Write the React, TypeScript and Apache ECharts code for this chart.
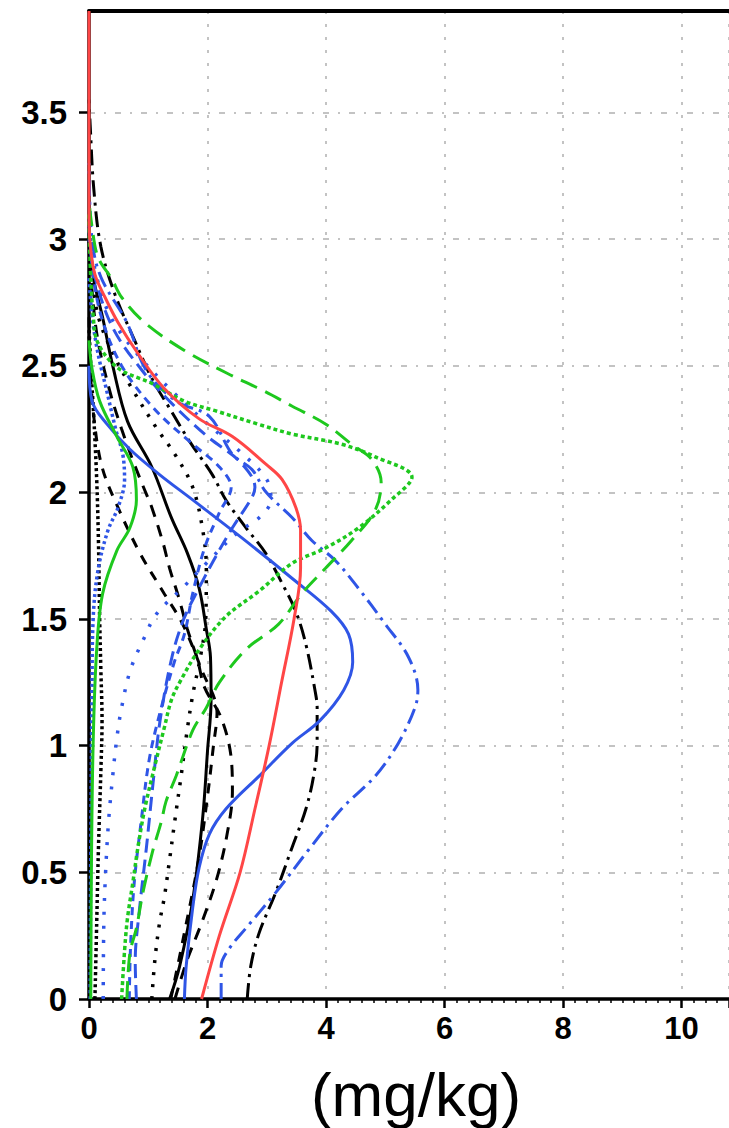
import React, { useEffect, useRef } from "react";
import * as echarts from "echarts";

// ---- data: [concentration (mg/kg), height] ----
const yTicks = [0, 0.5, 1, 1.5, 2, 2.5, 3, 3.5];
const xTicks = [0, 2, 4, 6, 8, 10];

const blackSquares = [[0.1,0],[0.13,0.3],[0.16,0.6],[0.2,0.9],[0.22,1.1],[0.2,1.3],[0.18,1.5],[0.16,1.8],[0.13,2.05],[0.08,2.3],[0.03,2.5],[0,2.65]];
const blackDotted = [[1.06,0],[1.11,0.15],[1.19,0.3],[1.27,0.4],[1.36,0.55],[1.44,0.69],[1.56,0.89],[1.65,1.05],[1.75,1.2],[1.88,1.35],[1.97,1.5],[1.98,1.7],[1.92,1.85],[1.75,2.02],[1.45,2.15],[1.15,2.25],[0.75,2.4],[0.4,2.55],[0.15,2.7],[0.02,2.9]];
const blackDash1 = [[1.38,0],[1.6,0.25],[1.85,0.55],[2.0,0.8],[2.1,1.0],[2.16,1.13],[1.9,1.3],[1.58,1.48],[1.27,1.6],[0.86,1.76],[0.49,1.94],[0.22,2.1],[0.08,2.3],[0.02,2.5],[0,2.7]];
const blackDash2 = [[1.45,0],[1.65,0.15],[1.9,0.3],[2.15,0.47],[2.33,0.65],[2.42,0.82],[2.4,0.95],[2.23,1.11],[1.95,1.23],[1.83,1.34],[1.66,1.46],[1.52,1.58],[1.36,1.7],[1.25,1.8],[1.06,1.94],[0.92,2.02],[0.75,2.12],[0.55,2.25],[0.35,2.4],[0.15,2.6],[0.05,2.8],[0,3.0]];
const blackSolid = [[1.36,0],[1.53,0.13],[1.75,0.39],[1.92,0.72],[2.0,0.98],[2.06,1.18],[2.05,1.35],[1.98,1.46],[1.86,1.62],[1.66,1.76],[1.39,1.9],[1.06,2.1],[0.65,2.28],[0.4,2.5],[0.23,2.69],[0.07,2.85],[0,3.0]];
const blackDashDot = [[2.67,0],[2.73,0.13],[2.87,0.26],[3.15,0.42],[3.43,0.6],[3.66,0.75],[3.79,0.88],[3.85,1.01],[3.85,1.15],[3.82,1.21],[3.66,1.4],[3.49,1.53],[3.26,1.64],[2.98,1.76],[2.65,1.86],[2.31,1.97],[2.08,2.07],[1.7,2.2],[1.39,2.32],[1.06,2.45],[0.77,2.6],[0.44,2.78],[0.2,2.97],[0.08,3.2],[0.02,3.45],[0,3.55]];

const blueSquares = [[0.02,0],[0.03,0.6],[0.05,1.2],[0.07,1.5],[0.15,1.69],[0.32,1.85],[0.49,1.94],[0.6,2.05],[0.57,2.15],[0.45,2.25],[0.3,2.4],[0.15,2.55],[0.05,2.7],[0,2.85]];
const blueDots = [[0.24,0],[0.25,0.3],[0.28,0.5],[0.33,0.7],[0.4,0.88],[0.47,1.03],[0.55,1.15],[0.7,1.3],[0.94,1.43],[1.14,1.52],[1.61,1.63],[1.98,1.72],[2.5,1.84],[2.87,1.9],[3.07,1.97],[3.0,2.05],[2.6,2.15],[2.0,2.27],[1.4,2.4],[0.8,2.55],[0.35,2.7],[0.1,2.88],[0,3.05]];
const blueDash1 = [[0.8,0],[0.78,0.15],[0.85,0.35],[0.97,0.6],[1.08,0.85],[1.2,1.1],[1.4,1.35],[1.6,1.5],[1.85,1.62],[2.1,1.73],[2.42,1.86],[2.75,1.98],[2.8,2.02],[2.55,2.12],[2.0,2.22],[1.4,2.35],[0.9,2.48],[0.4,2.65],[0.1,2.85],[0,3.0]];
const blueDash2 = [[0.68,0],[0.7,0.2],[0.76,0.45],[0.88,0.7],[1.02,0.95],[1.22,1.15],[1.44,1.33],[1.61,1.44],[1.75,1.6],[1.95,1.78],[2.2,1.92],[2.4,2.02],[2.2,2.1],[1.7,2.2],[1.1,2.33],[0.55,2.5],[0.2,2.7],[0.05,2.9],[0,3.05]];
const blueSolid = [[1.61,0],[1.64,0.13],[1.75,0.36],[1.86,0.52],[2.03,0.65],[2.31,0.75],[2.87,0.88],[3.43,1.01],[3.9,1.1],[4.3,1.22],[4.45,1.33],[4.38,1.44],[4.09,1.53],[3.43,1.66],[2.58,1.82],[1.75,1.97],[1.19,2.07],[0.69,2.17],[0.3,2.27],[0.05,2.36],[0,2.5]];
const blueDashDot = [[2.23,0],[2.23,0.13],[2.37,0.2],[2.65,0.28],[3.15,0.42],[3.71,0.59],[4.26,0.75],[4.83,0.88],[5.22,1.01],[5.5,1.15],[5.55,1.22],[5.39,1.35],[5.0,1.48],[4.55,1.62],[4.16,1.73],[3.76,1.81],[3.43,1.9],[2.99,2.0],[2.75,2.09],[2.42,2.15],[2.03,2.3],[1.47,2.36],[0.97,2.48],[0.64,2.67],[0.2,2.85],[0.05,3.0],[0,3.3]];

const greenSolid = [[0.03,0],[0.04,0.5],[0.07,1.01],[0.13,1.38],[0.23,1.6],[0.47,1.77],[0.69,1.86],[0.8,1.97],[0.74,2.1],[0.47,2.22],[0.18,2.36],[0.05,2.49],[0,2.6]];
const greenDotted = [[0.55,0],[0.6,0.19],[0.65,0.32],[0.74,0.46],[0.82,0.59],[0.94,0.75],[1.11,0.92],[1.27,1.07],[1.39,1.18],[1.53,1.25],[1.86,1.38],[2.31,1.51],[2.87,1.61],[3.43,1.72],[3.99,1.78],[4.55,1.86],[5.1,1.97],[5.45,2.06],[4.83,2.14],[4.26,2.19],[3.43,2.23],[2.84,2.27],[2.16,2.32],[1.61,2.36],[1.06,2.43],[0.49,2.49],[0.15,2.59],[0.07,2.7],[0.02,2.9],[0,3.1]];
const greenLongDash = [[0.64,0],[0.69,0.18],[0.8,0.28],[0.91,0.42],[1.07,0.58],[1.22,0.7],[1.3,0.78],[1.47,0.88],[1.75,1.06],[1.98,1.15],[2.2,1.25],[2.65,1.38],[3.2,1.48],[3.59,1.6],[3.99,1.7],[4.43,1.81],[4.83,1.93],[4.93,2.04],[4.77,2.13],[4.43,2.19],[3.99,2.27],[3.43,2.34],[2.95,2.4],[2.33,2.47],[1.61,2.56],[0.94,2.67],[0.55,2.77],[0.39,2.84],[0.15,2.93],[0.05,3.05],[0,3.15]];

const redSolid = [[1.9,0],[2.2,0.25],[2.55,0.5],[2.8,0.75],[3.04,1.0],[3.25,1.25],[3.46,1.5],[3.57,1.7],[3.57,1.85],[3.49,1.94],[3.26,2.05],[2.99,2.11],[2.42,2.22],[1.86,2.29],[1.27,2.41],[0.82,2.55],[0.49,2.67],[0.27,2.77],[0.1,2.86],[0.02,2.98],[0,3.1],[0,3.9]];

const BLACK = "#000000";
const BLUE = "#2f55e6";
const GREEN = "#1ec81e";
const RED = "#ff4646";

type Spec = { data: number[][]; color: string; dash: any; width?: number };
const specs: Spec[] = [
  { data: blackSquares, color: BLACK, dash: [3, 3], width: 3.5 },
  { data: blackDotted, color: BLACK, dash: [3, 9], width: 3.5 },
  { data: blackDash1, color: BLACK, dash: [10, 9] },
  { data: blackDash2, color: BLACK, dash: [12, 9] },
  { data: blackSolid, color: BLACK, dash: "solid" },
  { data: blackDashDot, color: BLACK, dash: [16, 6, 3, 6] },
  { data: blueSquares, color: BLUE, dash: [3, 3], width: 3.5 },
  { data: blueDots, color: BLUE, dash: [3, 11], width: 3.5 },
  { data: blueDash1, color: BLUE, dash: [14, 7] },
  { data: blueDash2, color: BLUE, dash: [8, 6] },
  { data: blueSolid, color: BLUE, dash: "solid" },
  { data: blueDashDot, color: BLUE, dash: [16, 6, 3, 6] },
  { data: greenSolid, color: GREEN, dash: "solid" },
  { data: greenDotted, color: GREEN, dash: [4, 3], width: 3.5 },
  { data: greenLongDash, color: GREEN, dash: [18, 9] },
  { data: redSolid, color: RED, dash: "solid" },
];

export default function App() {
  const ref = useRef<HTMLDivElement>(null);
  useEffect(() => {
    if (!ref.current) return;
    const chart = echarts.init(ref.current, undefined, { renderer: "svg" });
    const labelFont = { fontFamily: "Liberation Sans", fontWeight: "bold" as const, color: "#000" };
    chart.setOption({
      animation: false,
      backgroundColor: "#ffffff",
      grid: { left: 89, top: 11, width: 643.7, height: 988, containLabel: false },
      xAxis: [
        {
          type: "value",
          min: 0,
          max: 10.8,
          interval: 2,
          axisLine: { show: true, onZero: false, lineStyle: { color: "#000", width: 3.5 } },
          axisTick: { show: true, length: 9, lineStyle: { color: "#000", width: 2.5 } },
          minorTick: { show: true, splitNumber: 10, length: 4, lineStyle: { color: "#000", width: 1.5 } },
          axisLabel: {
            ...labelFont,
            fontSize: 31,
            margin: 14,
            showMaxLabel: false,
            formatter: (v: number) => (xTicks.includes(v) ? String(v) : ""),
          },
          splitLine: { show: true, lineStyle: { color: "#b0b0b0", width: 1.5, type: [3, 10] } },
        },
        {
          type: "value",
          position: "top",
          min: 0,
          max: 10.8,
          axisLine: { show: true, onZero: false, lineStyle: { color: "#000", width: 4 } },
          axisTick: { show: false },
          axisLabel: { show: false },
          splitLine: { show: false },
        },
      ],
      yAxis: {
        type: "value",
        min: 0,
        max: 3.9,
        interval: 0.5,
        axisLine: { show: true, onZero: false, lineStyle: { color: "#000", width: 3.5 } },
        axisTick: { show: true, length: 10, lineStyle: { color: "#000", width: 2.5 }, customValues: yTicks },
        minorTick: { show: false },
        axisLabel: {
          ...labelFont,
          fontSize: 33,
          margin: 22,
          customValues: yTicks,
          formatter: (v: number) => String(v),
        },
        splitLine: { show: true, lineStyle: { color: "#b0b0b0", width: 1.5, type: [6, 9, 2, 9] } },
      },
      series: specs.map((s) => ({
        type: "line",
        data: s.data,
        xAxisIndex: 0,
        smooth: 0.35,
        showSymbol: false,
        silent: true,
        lineStyle: { color: s.color, width: s.width ?? 3, type: s.dash, cap: "butt" },
      })),
      graphic: [
        {
          type: "text",
          x: 416,
          y: 1094,
          style: {
            text: "(mg/kg)",
            fontFamily: "Liberation Sans",
            fontSize: 62,
            fill: "#000",
            align: "center",
            verticalAlign: "middle",
          },
        },
      ],
    });
    return () => chart.dispose();
  }, []);
  return (
    <div
      ref={ref}
      style={{ position: "absolute", left: 0, top: 0, width: 729, height: 1128, background: "#fff" }}
    />
  );
}
